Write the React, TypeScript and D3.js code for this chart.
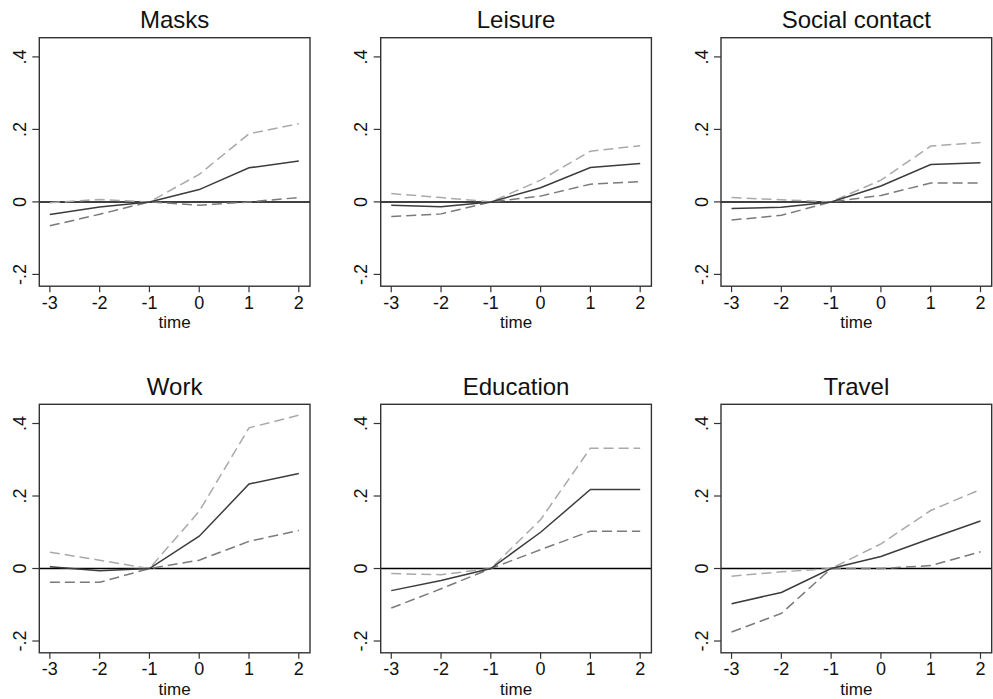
import React from "react";
import * as d3 from "d3";

const times = [-3, -2, -1, 0, 1, 2];
const xTicks = [-3, -2, -1, 0, 1, 2];
const yTicks = [0.4, 0.2, 0, -0.2];
const yTickLabels = [".4", ".2", "0", "-.2"];
const panelTitles = ["Masks", "Leisure", "Social contact", "Work", "Education", "Travel"];
const xAxisTitle = "time";

const masksEst = [-0.035, -0.014, 0, 0.034, 0.094, 0.113];
const masksUpper = [-0.002, 0.007, 0, 0.076, 0.188, 0.216];
const masksLower = [-0.066, -0.034, 0, -0.009, 0, 0.012];

const leisureEst = [-0.009, -0.013, 0, 0.039, 0.095, 0.106];
const leisureUpper = [0.023, 0.012, 0, 0.06, 0.14, 0.155];
const leisureLower = [-0.04, -0.033, 0, 0.016, 0.049, 0.056];

const socialEst = [-0.018, -0.015, 0, 0.044, 0.103, 0.108];
const socialUpper = [0.012, 0.006, 0, 0.06, 0.154, 0.164];
const socialLower = [-0.05, -0.037, 0, 0.018, 0.052, 0.052];

const workEst = [0.005, -0.006, 0, 0.089, 0.233, 0.262];
const workUpper = [0.045, 0.023, 0, 0.158, 0.388, 0.423];
const workLower = [-0.038, -0.038, 0, 0.023, 0.075, 0.105];

const educationEst = [-0.061, -0.033, 0, 0.1, 0.218, 0.218];
const educationUpper = [-0.014, -0.017, 0, 0.135, 0.332, 0.332];
const educationLower = [-0.109, -0.056, 0, 0.052, 0.103, 0.103];

const travelEst = [-0.097, -0.066, 0, 0.033, 0.083, 0.131];
const travelUpper = [-0.021, -0.009, 0, 0.068, 0.16, 0.218];
const travelLower = [-0.175, -0.124, 0, 0, 0.008, 0.046];

const panels = [
  { title: panelTitles[0], est: masksEst, upper: masksUpper, lower: masksLower },
  { title: panelTitles[1], est: leisureEst, upper: leisureUpper, lower: leisureLower },
  { title: panelTitles[2], est: socialEst, upper: socialUpper, lower: socialLower },
  { title: panelTitles[3], est: workEst, upper: workUpper, lower: workLower },
  { title: panelTitles[4], est: educationEst, upper: educationUpper, lower: educationLower },
  { title: panelTitles[5], est: travelEst, upper: travelUpper, lower: travelLower },
];

const W = 993;
const H = 699;
const colLefts = [39.3, 380.7, 721];
const rowTops = [37.7, 404.3];
const plotW = 270.7;
const plotH = 248.5;
const FONT = "Arial, 'Liberation Sans', Helvetica, sans-serif";

function Panel({ p, left, top }: { p: any; left: number; top: number }) {
  const x = d3.scaleLinear().domain([-3.212, 2.225]).range([left, left + plotW]);
  const y = d3.scaleLinear().domain([-0.2325, 0.453]).range([top + plotH, top]);
  const line = d3
    .line<number>()
    .x((_, i) => x(times[i]))
    .y((d) => y(d));
  const bottom = top + plotH;
  return (
    <g>
      <text
        x={left + plotW / 2}
        y={top - 9.5}
        textAnchor="middle"
        fontSize={24}
        fontFamily={FONT}
        fill="#111"
      >
        {p.title}
      </text>
      <line x1={left} x2={left + plotW} y1={y(0)} y2={y(0)} stroke="#000" strokeWidth={1.5} />
      <path d={line(p.upper) || ""} fill="none" stroke="#a9a9a9" strokeWidth={1.5} strokeDasharray="10,5" />
      <path d={line(p.lower) || ""} fill="none" stroke="#7a7a7a" strokeWidth={1.5} strokeDasharray="10,5" />
      <path d={line(p.est) || ""} fill="none" stroke="#3c3c3c" strokeWidth={1.5} />
      <rect x={left} y={top} width={plotW} height={plotH} fill="none" stroke="#333" strokeWidth={1.4} />
      {xTicks.map((t) => (
        <g key={"x" + t}>
          <line x1={x(t)} x2={x(t)} y1={bottom} y2={bottom + 6} stroke="#333" strokeWidth={1.2} />
          <text x={x(t)} y={bottom + 22.5} textAnchor="middle" fontSize={18} fontFamily={FONT} fill="#111">
            {t < 0 ? "-" + Math.abs(t) : String(t)}
          </text>
        </g>
      ))}
      {yTicks.map((t, i) => (
        <g key={"y" + t}>
          <line x1={left - 7} x2={left} y1={y(t)} y2={y(t)} stroke="#333" strokeWidth={1.2} />
          <text
            transform={`translate(${left - 13.5},${y(t)}) rotate(-90)`}
            textAnchor="middle"
            fontSize={18}
            fontFamily={FONT}
            fill="#111"
          >
            {yTickLabels[i]}
          </text>
        </g>
      ))}
      <text x={left + plotW / 2} y={bottom + 42} textAnchor="middle" fontSize={17} fontFamily={FONT} fill="#111">
        {xAxisTitle}
      </text>
    </g>
  );
}

export default function App() {
  return (
    <svg
      width={W}
      height={H}
      style={{ position: "absolute", left: 0, top: 0, background: "#fff" }}
    >
      <rect x={0} y={0} width={W} height={H} fill="#fff" />
      {panels.map((p, i) => (
        <Panel key={p.title} p={p} left={colLefts[i % 3]} top={rowTops[Math.floor(i / 3)]} />
      ))}
    </svg>
  );
}
